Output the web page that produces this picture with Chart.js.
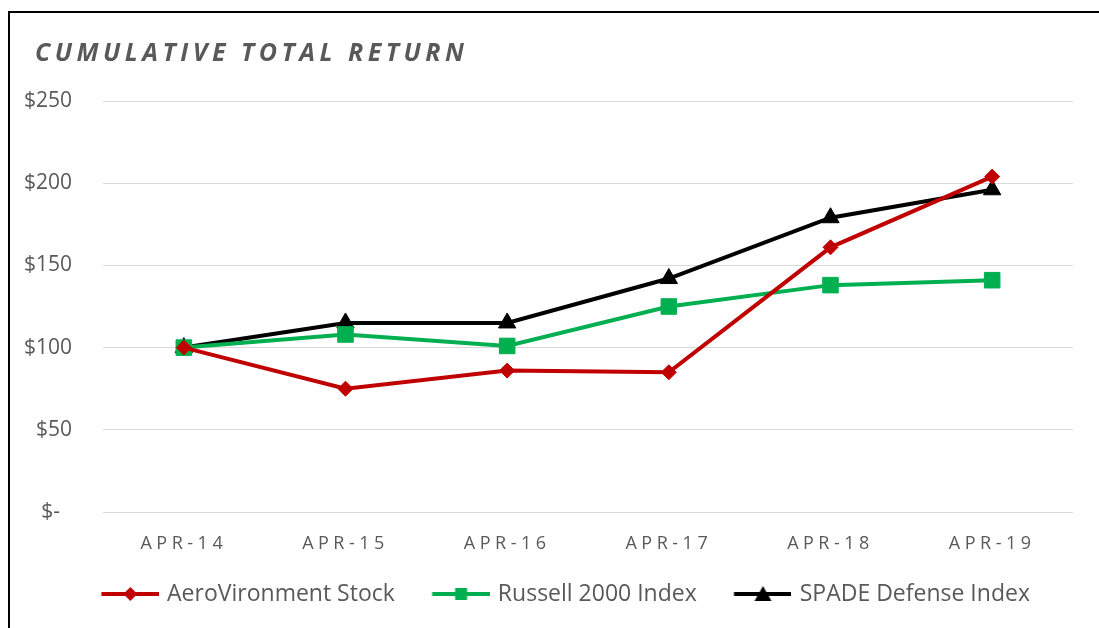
<!DOCTYPE html>
<html>
<head>
<meta charset="utf-8">
<script src="https://cdn.jsdelivr.net/npm/chart.js@4/dist/chart.umd.min.js"></script>
<style>
  html, body { margin: 0; padding: 0; background: #fff; overflow: hidden; }
  #frame { position: absolute; left: 8px; top: 11px; width: 1089px; height: 615px;
           border-left: 2px solid #000; border-top: 2px solid #000; }
  #chart { display: block; }
</style>
</head>
<body>
<div id="frame"><canvas id="chart" width="1089" height="615"></canvas></div>
<script>
// data
const labels = ['APR-14', 'APR-15', 'APR-16', 'APR-17', 'APR-18', 'APR-19'];
const aeroVironment = [100, 75, 86, 85, 161, 204];
const russell2000 = [100, 108, 101, 125, 138, 141];
const spadeDefense = [100, 115, 115, 142, 179, 196];
const yTicks = [0, 50, 100, 150, 200, 250];

const GREY = '#595959';
const FONT = '"Open Sans", "Noto Sans", sans-serif';

// legend icon: line with marker, transparent room on the left
const ICON_W = 80.5, LINE_START = 22.5;
function legendIcon(color, shape) {
  const c = document.createElement('canvas');
  c.width = ICON_W; c.height = 20;
  const g = c.getContext('2d');
  const mid = (LINE_START + ICON_W) / 2;
  g.strokeStyle = color; g.fillStyle = color; g.lineWidth = 4;
  g.beginPath(); g.moveTo(LINE_START, 10); g.lineTo(ICON_W, 10); g.stroke();
  g.beginPath();
  if (shape === 'diamond') { g.moveTo(mid, 3); g.lineTo(mid + 7, 10); g.lineTo(mid, 17); g.lineTo(mid - 7, 10); }
  else if (shape === 'square') { g.rect(mid - 6, 4, 12, 12); }
  else { g.moveTo(mid, 2); g.lineTo(mid + 8.5, 17); g.lineTo(mid - 8.5, 17); }
  g.closePath(); g.fill();
  return c;
}
const icons = [legendIcon('#c00000', 'diamond'), legendIcon('#00b050', 'square'), legendIcon('#000000', 'triangle')];

// letter spacing / small shifts for title, x labels and legend
const tweakPlugin = {
  id: 'tweak',
  beforeDraw(chart) {
    const ctx = chart.ctx;
    const wrap = (obj, fn, dx, spacing) => {
      if (!obj || obj._wrapped) return;
      const orig = obj[fn];
      obj[fn] = function (...a) {
        ctx.save();
        if (dx) ctx.translate(dx, 0);
        if (spacing) ctx.letterSpacing = spacing;
        orig.apply(this, a);
        ctx.restore();
      };
      obj._wrapped = true;
    };
    wrap(chart.scales.x, 'drawLabels', 0, '4.5px');
    wrap(chart.titleBlock, 'draw', 15, '4.5px');
    wrap(chart.legend, 'draw', 9.5, null);
  }
};

function line(label, data, color, style, radius) {
  return {
    label, data,
    borderColor: color, backgroundColor: color,
    borderWidth: 4, tension: 0,
    pointStyle: style, pointRadius: radius, pointHoverRadius: radius,
    pointBorderWidth: 1, pointBorderColor: color, pointBackgroundColor: color
  };
}

new Chart(document.getElementById('chart'), {
  type: 'line',
  data: {
    labels,
    datasets: [
      line('AeroVironment Stock', aeroVironment, '#c00000', 'rectRot', 7.5),
      line('Russell 2000 Index', russell2000, '#00b050', 'rect', 11),
      line('SPADE Defense Index', spadeDefense, '#000000', 'triangle', 10)
    ]
  },
  options: {
    responsive: false,
    animation: false,
    events: [],
    layout: { padding: { left: 10, right: 26, top: 0, bottom: 12.5 } },
    scales: {
      x: {
        offset: true,
        grid: { display: false },
        border: { display: false },
        ticks: { color: GREY, font: { family: FONT, size: 18 }, padding: 13, maxRotation: 0 },
        afterFit(s) { s.height = 52.5; }
      },
      y: {
        min: yTicks[0], max: yTicks[yTicks.length - 1],
        afterBuildTicks(s) { s.ticks = yTicks.map(v => ({ value: v })); },
        grid: { color: '#d9d9d9', lineWidth: 1, drawTicks: false },
        border: { display: false },
        ticks: {
          color: GREY, font: { family: FONT, size: 21 }, padding: 31,
          callback: v => v === 0 ? '$-\u2007' : '$' + v
        },
        afterFit(s) { s.width = 83; }
      }
    },
    plugins: {
      title: {
        display: true, text: 'CUMULATIVE TOTAL RETURN', align: 'start',
        color: GREY, font: { family: FONT, size: 25, weight: 'bold', style: 'italic', lineHeight: 1.2 },
        padding: { top: 26, bottom: 32 }
      },
      legend: {
        position: 'bottom',
        labels: {
          color: GREY, font: { family: FONT, size: 23 },
          usePointStyle: true, pointStyleWidth: ICON_W - 7, padding: 18,
          generateLabels(chart) {
            const items = Chart.defaults.plugins.legend.labels.generateLabels(chart);
            items.forEach((it, i) => { it.pointStyle = icons[i]; });
            return items;
          }
        }
      },
      tooltip: { enabled: false }
    }
  },
  plugins: [tweakPlugin]
});
</script>
</body>
</html>
